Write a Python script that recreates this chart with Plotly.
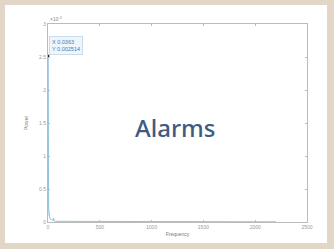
import plotly.graph_objects as go

freq = [0, 0.0363, 2, 4, 6, 8, 10, 15, 20, 30, 40, 50, 55, 60, 70, 80, 100, 150, 200, 300, 500, 800, 1000, 1300, 1600, 1900, 2200]
power = [0.0001, 0.002514, 0.0012, 0.0006, 0.0003, 0.00018, 0.00012, 0.00008, 0.00005, 0.00004, 0.00003, 0.00002, 0.00006, 0.00002, 0.00001, 0.00001, 0.000008, 0.000006, 0.000005, 0.000004, 0.000004, 0.000003, 0.000003, 0.000003, 0.000003, 0.000003, 0.000003]
tip_x = [0.0363]
tip_y = [0.002514]
xticks = [0, 500, 1000, 1500, 2000, 2500]
yticks = [0, 0.0005, 0.001, 0.0015, 0.002, 0.0025, 0.003]
ytick_labels = ["0", "0.5", "1", "1.5", "2", "2.5", "3"]

fig = go.Figure()
fig.add_trace(go.Scatter(x=freq, y=power, mode="lines",
                         line=dict(color="#8fc3e0", width=1), hoverinfo="skip"))
fig.add_trace(go.Scatter(x=tip_x, y=tip_y, mode="markers",
                         marker=dict(color="#222", size=3), hoverinfo="skip"))

tickfont = dict(size=5, color="#999", family="Liberation Sans")
fig.update_layout(
    width=334, height=249,
    paper_bgcolor="#e2d6c6", plot_bgcolor="white",
    margin=dict(l=48, r=27, t=24, b=27),
    showlegend=False,
    font=dict(family="Liberation Sans"),
    xaxis=dict(range=[0, 2500], tickvals=xticks, ticks="inside", ticklen=2,
               tickcolor="#bbb", showgrid=False, zeroline=False, automargin=False,
               showline=True, linecolor="#bbb", linewidth=1, mirror="ticks",
               tickfont=tickfont,
               title=dict(text="Frequency", font=dict(size=5, color="#777"), standoff=3)),
    yaxis=dict(range=[0, 0.003], tickvals=yticks, ticktext=ytick_labels,
               ticks="inside", ticklen=2, tickcolor="#bbb", showgrid=False, automargin=False,
               zeroline=False, showline=True, linecolor="#bbb", linewidth=1,
               mirror="ticks", tickfont=tickfont,
               title=dict(text="Power", font=dict(size=5, color="#777"), standoff=10)),
)
# white card
fig.add_shape(type="rect", xref="paper", yref="paper",
              x0=-43/259, x1=(327-48)/259, y0=-(243-222)/198, y1=(222-5)/198,
              fillcolor="white", line=dict(width=0), layer="below")
# exponent label
fig.add_annotation(xref="paper", yref="paper", x=0, y=1, xanchor="left", yanchor="bottom",
                   text="×10<sup>-3</sup>", showarrow=False, font=dict(size=5, color="#888"))
# data tip
fig.add_annotation(xref="paper", yref="paper", x=0.004, y=0.94, xanchor="left", yanchor="top",
                   text="X 0.0363<br>Y 0.002514", showarrow=False, align="left",
                   font=dict(size=5.5, color="#3a7fc0"), bgcolor="#eef5fb",
                   bordercolor="#c8dcec", borderwidth=1, borderpad=2)
# overlay title
fig.add_annotation(xref="paper", yref="paper", x=(175-48)/259, y=(222-127)/198,
                   text="Alarms", showarrow=False,
                   font=dict(size=24, color="#3f5b82", family="Noto Sans", weight=500))
fig.write_html("out.html", config={"displayModeBar": False},
               post_script="document.body.style.margin='0';document.body.style.background='#e2d6c6';")
